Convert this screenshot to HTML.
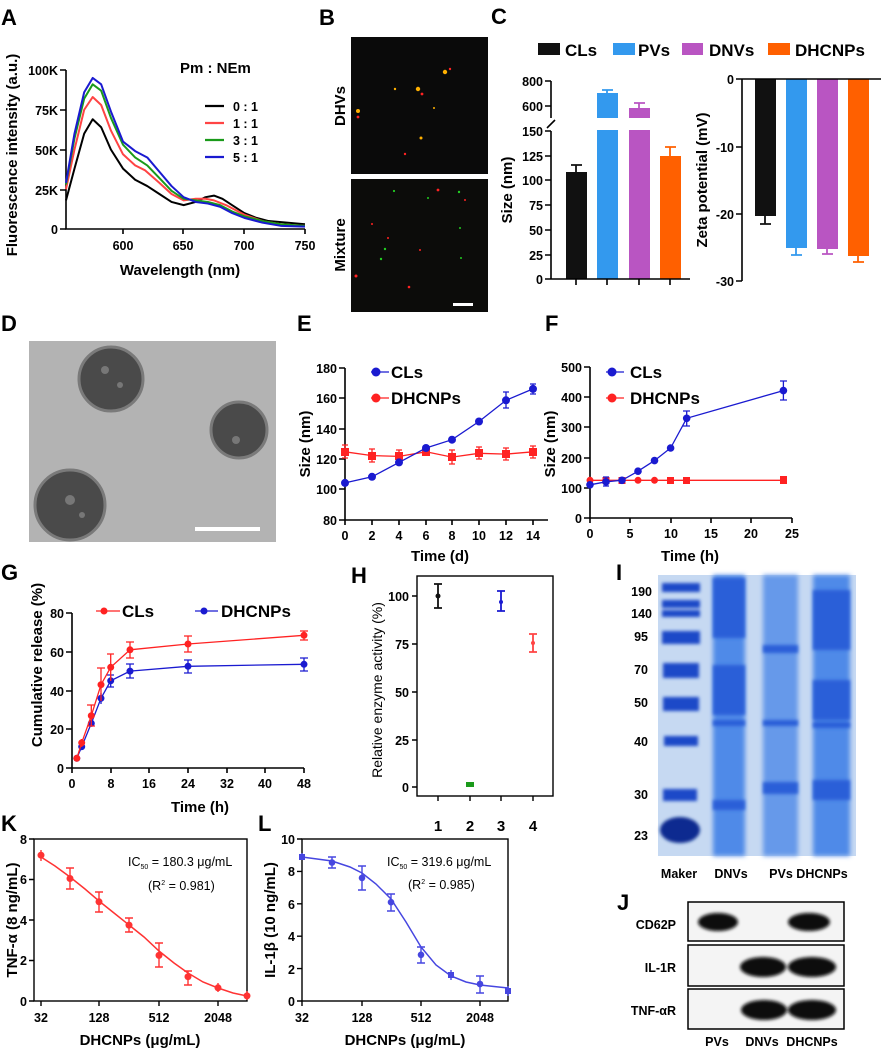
<!DOCTYPE html>
<html><head><meta charset="utf-8"><style>
html,body{margin:0;padding:0;background:#fff}
svg{display:block}
text{font-family:"Liberation Sans",Arial,sans-serif}
.b{font-weight:bold}
.t{font-size:12.5px;font-weight:bold}
.l{font-size:15px;font-weight:bold}
.P{font-size:22px;font-weight:bold}
</style></head><body>
<svg width="881" height="1051" viewBox="0 0 881 1051" xmlns="http://www.w3.org/2000/svg">
<defs>
<filter id="bl" x="-20%" y="-50%" width="140%" height="200%"><feGaussianBlur stdDeviation="1.5"/></filter>
<filter id="bl2" x="-20%" y="-50%" width="140%" height="200%"><feGaussianBlur stdDeviation="2.5"/></filter>
</defs>
<rect width="881" height="1051" fill="#fff"/>

<!-- A -->
<text x="1" y="25" class="P">A</text>
<g stroke="#000" stroke-width="1.6" fill="none">
<path d="M66,70V229H305"/>
<path d="M60,70H66M60,110H66M60,150H66M60,190H66M60,229H66M123,229V234M183,229V234M244,229V234M305,229V234"/>
</g>
<g class="t" text-anchor="end"><text x="58" y="75">100K</text><text x="58" y="115">75K</text><text x="58" y="155">50K</text><text x="58" y="195">25K</text><text x="58" y="234">0</text></g>
<g class="t" text-anchor="middle"><text x="123" y="250">600</text><text x="183" y="250">650</text><text x="244" y="250">700</text><text x="305" y="250">750</text></g>
<text x="180" y="275" class="l" text-anchor="middle">Wavelength (nm)</text>
<text transform="translate(17,155) rotate(-90)" class="l" text-anchor="middle">Fluorescence intensity (a.u.)</text>
<text x="180" y="73" class="l">Pm : NEm</text>
<g stroke-width="2.2"><path d="M205,106H224" stroke="#000"/><path d="M205,123H224" stroke="#f44"/><path d="M205,140H224" stroke="#1a9a1a"/><path d="M205,157H224" stroke="#1a1ad0"/></g>
<g class="t"><text x="233" y="111">0 :  1</text><text x="233" y="128">1 :  1</text><text x="233" y="145">3 :  1</text><text x="233" y="162">5 :  1</text></g>
<g transform="translate(-604.8,229) scale(1.213,-1.59)" fill="none" stroke-width="2" stroke-linejoin="round">
<polyline vector-effect="non-scaling-stroke" stroke="#000" points="553,18 560,38 568,60 575,69 582,64 590,50 600,38 610,31 620,27 630,22 640,17 650,15 660,17 668,20 675,21 682,19 690,15 700,10 710,7 720,5 735,4 750,3"/>
<polyline vector-effect="non-scaling-stroke" stroke="#f44" points="553,25 560,50 568,75 575,83 582,78 590,62 600,47 610,40 618,37 630,29 640,22 650,18 660,19 668,19 675,18 685,15 700,9 715,5 730,3 750,2"/>
<polyline vector-effect="non-scaling-stroke" stroke="#1a9a1a" points="553,28 560,57 568,82 575,91 582,87 590,70 600,53 610,45 620,40 630,32 640,24 650,19 660,18 670,17 680,15 690,11 700,8 715,5 730,3 750,2"/>
<polyline vector-effect="non-scaling-stroke" stroke="#1a1ad0" points="553,29 560,60 568,86 575,95 582,91 590,74 600,55 610,49 620,45 630,36 640,27 650,20 660,17 670,16 680,14 690,10 700,7 715,4 730,2 750,1.5"/>
</g>

<!-- B -->
<text x="319" y="25" class="P">B</text>
<rect x="351" y="37" width="137" height="137" fill="#0a0a0a"/>
<rect x="351" y="179" width="137" height="133" fill="#0c0c0a"/>
<g fill="#ffb000"><circle cx="445" cy="72" r="2.2"/><circle cx="418" cy="89" r="2.2"/><circle cx="358" cy="111" r="2"/><circle cx="421" cy="138" r="1.5"/><circle cx="395" cy="89" r="1.2"/><circle cx="434" cy="108" r="1"/></g>
<g fill="#f22"><circle cx="358" cy="117" r="1.4"/><circle cx="450" cy="69" r="1.2"/><circle cx="405" cy="154" r="1.2"/><circle cx="422" cy="94" r="1.4"/><circle cx="356" cy="276" r="1.5"/><circle cx="409" cy="287" r="1.3"/><circle cx="438" cy="190" r="1.4"/><circle cx="372" cy="224" r="1"/><circle cx="465" cy="200" r="1"/><circle cx="420" cy="250" r="1"/><circle cx="388" cy="238" r="1"/></g>
<g fill="#2c2"><circle cx="394" cy="191" r="1.1"/><circle cx="459" cy="192" r="1.2"/><circle cx="385" cy="249" r="1.2"/><circle cx="381" cy="259" r="1.2"/><circle cx="460" cy="228" r="1"/><circle cx="428" cy="198" r="1"/><circle cx="461" cy="258" r="1"/></g>
<rect x="453" y="303" width="20" height="3" fill="#fff"/>
<text transform="translate(345,106) rotate(-90)" class="l" text-anchor="middle">DHVs</text>
<text transform="translate(345,245) rotate(-90)" class="l" text-anchor="middle">Mixture</text>

<!-- C -->
<text x="491" y="24" class="P">C</text>
<rect x="538" y="43" width="22" height="12" fill="#111"/><text x="565" y="56" style="font-size:17px" class="b">CLs</text>
<rect x="613" y="43" width="22" height="12" fill="#3399ee"/><text x="638" y="56" style="font-size:17px" class="b">PVs</text>
<rect x="682" y="43" width="21" height="12" fill="#b955c2"/><text x="709" y="56" style="font-size:17px" class="b">DNVs</text>
<rect x="768" y="43" width="22" height="12" fill="#ff6000"/><text x="795" y="56" style="font-size:17px" class="b">DHCNPs</text>
<rect x="566" y="172" width="21" height="107" fill="#111"/>
<rect x="597" y="93" width="21" height="25" fill="#3399ee"/><rect x="597" y="130" width="21" height="149" fill="#3399ee"/>
<rect x="629" y="108" width="21" height="10" fill="#b955c2"/><rect x="629" y="130" width="21" height="149" fill="#b955c2"/>
<rect x="660" y="156" width="21" height="123" fill="#ff6000"/>
<g stroke-width="1.8" fill="none">
<path d="M576,172V165M571,165H582" stroke="#111"/>
<path d="M607,93V90M602,90H613" stroke="#3399ee"/>
<path d="M639,108V103M634,103H645" stroke="#b955c2"/>
<path d="M670,156V147M665,147H676" stroke="#ff6000"/>
</g>
<g stroke="#000" stroke-width="1.6" fill="none">
<path d="M551,81V118M551,131V279H690M545,81H551M545,106H551M545,131H551M545,156H551M545,180H551M545,205H551M545,230H551M545,255H551M545,279H551M576,279V285M607,279V285M639,279V285M670,279V285"/>
<path d="M547,128L555,120"/>
</g>
<g class="t" text-anchor="end"><text x="543" y="86">800</text><text x="543" y="111">600</text><text x="543" y="136">150</text><text x="543" y="161">125</text><text x="543" y="185">100</text><text x="543" y="210">75</text><text x="543" y="235">50</text><text x="543" y="260">25</text><text x="543" y="284">0</text></g>
<text transform="translate(512,190) rotate(-90)" class="l" text-anchor="middle">Size (nm)</text>
<rect x="755" y="79" width="21" height="137" fill="#111"/>
<rect x="786" y="79" width="21" height="169" fill="#3399ee"/>
<rect x="817" y="79" width="21" height="170" fill="#b955c2"/>
<rect x="848" y="79" width="21" height="177" fill="#ff6000"/>
<g stroke-width="1.8" fill="none">
<path d="M765,216V224M760,224H771" stroke="#111"/>
<path d="M796,248V255M791,255H802" stroke="#3399ee"/>
<path d="M827,249V254M822,254H833" stroke="#b955c2"/>
<path d="M858,256V262M853,262H864" stroke="#ff6000"/>
</g>
<g stroke="#000" stroke-width="1.6" fill="none"><path d="M742,79V281M742,79H881M736,79H742M736,147H742M736,214H742M736,281H742"/></g>
<g class="t" text-anchor="end"><text x="734" y="84">0</text><text x="734" y="152">-10</text><text x="734" y="219">-20</text><text x="734" y="286">-30</text></g>
<text transform="translate(707,180) rotate(-90)" class="l" text-anchor="middle">Zeta potential (mV)</text>

<!-- D -->
<text x="1" y="331" class="P">D</text>
<rect x="29" y="341" width="247" height="201" fill="#b3b3b3"/>
<g fill="#4a4a4a" stroke="#7a7a7a" stroke-width="3"><circle cx="111" cy="379" r="32"/><circle cx="239" cy="430" r="28"/><circle cx="70" cy="505" r="35"/></g>
<g fill="#777"><circle cx="105" cy="370" r="4"/><circle cx="120" cy="385" r="3"/><circle cx="236" cy="440" r="4"/><circle cx="70" cy="500" r="5"/><circle cx="82" cy="515" r="3"/></g>
<rect x="195" y="527" width="65" height="4" fill="#fff"/>

<!-- E -->
<text x="297" y="331" class="P">E</text>
<g stroke="#000" stroke-width="1.6" fill="none"><path d="M345,368V520H548M339,368H345M339,398H345M339,429H345M339,459H345M339,489H345M339,520H345M345,520V525M372,520V525M399,520V525M426,520V525M452,520V525M479,520V525M506,520V525M533,520V525"/></g>
<g class="t" text-anchor="end"><text x="337" y="373">180</text><text x="337" y="403">160</text><text x="337" y="434">140</text><text x="337" y="464">120</text><text x="337" y="494">100</text><text x="337" y="525">80</text></g>
<g class="t" text-anchor="middle"><text x="345" y="540">0</text><text x="372" y="540">2</text><text x="399" y="540">4</text><text x="426" y="540">6</text><text x="452" y="540">8</text><text x="479" y="540">10</text><text x="506" y="540">12</text><text x="533" y="540">14</text></g>
<text x="440" y="561" class="l" text-anchor="middle">Time (d)</text>
<text transform="translate(310,444) rotate(-90)" class="l" text-anchor="middle">Size (nm)</text>
<polyline fill="none" stroke="#f22" stroke-width="1.3" points="345,451.8 372,455.6 399,456.4 426,451.8 452,457.1 479,453.3 506,454.1 533,451.8"/>
<g stroke="#f22" stroke-width="1.3"><path d="M345,445V458M342,445H348M342,458H348M372,449V462M369,449H375M369,462H375M399,450V463M396,450H402M396,463H402M452,450V464M449,450H455M449,464H455M479,447V459M476,447H482M476,459H482M506,448V460M503,448H509M503,460H509M533,446V458M530,446H536M530,458H536"/></g>
<g fill="#f22"><rect x="341" y="448" width="8" height="8"/><rect x="368" y="452" width="8" height="8"/><rect x="395" y="452" width="8" height="8"/><rect x="422" y="448" width="8" height="8"/><rect x="448" y="453" width="8" height="8"/><rect x="475" y="449" width="8" height="8"/><rect x="502" y="450" width="8" height="8"/><rect x="529" y="448" width="8" height="8"/></g>
<polyline fill="none" stroke="#1a1ad0" stroke-width="1.3" points="345,482.9 372,476.8 399,462.4 426,448 452,439.7 479,421.5 506,400.3 533,388.9"/>
<g stroke="#1a1ad0" stroke-width="1.3"><path d="M506,392V408M503,392H509M503,408H509M533,384V394M530,384H536M530,394H536"/></g>
<g fill="#1a1ad0"><circle cx="345" cy="482.9" r="4"/><circle cx="372" cy="476.8" r="4"/><circle cx="399" cy="462.4" r="4"/><circle cx="426" cy="448" r="4"/><circle cx="452" cy="439.7" r="4"/><circle cx="479" cy="421.5" r="4"/><circle cx="506" cy="400.3" r="4"/><circle cx="533" cy="388.9" r="4"/></g>
<path d="M371,372H389" stroke="#1a1ad0" stroke-width="1.3"/><circle cx="376" cy="372" r="4.5" fill="#1a1ad0"/>
<text x="391" y="378" style="font-size:17px" class="b">CLs</text>
<path d="M371,398H389" stroke="#f22" stroke-width="1.3"/><circle cx="376" cy="398" r="4.5" fill="#f22"/>
<text x="391" y="404" style="font-size:17px" class="b">DHCNPs</text>

<!-- F -->
<text x="545" y="331" class="P">F</text>
<g stroke="#000" stroke-width="1.6" fill="none"><path d="M590,367V518H792M584,367H590M584,397H590M584,427H590M584,458H590M584,488H590M584,518H590M590,518V523M630,518V523M671,518V523M711,518V523M751,518V523M792,518V523"/></g>
<g class="t" text-anchor="end"><text x="582" y="372">500</text><text x="582" y="402">400</text><text x="582" y="432">300</text><text x="582" y="463">200</text><text x="582" y="493">100</text><text x="582" y="523">0</text></g>
<g class="t" text-anchor="middle"><text x="590" y="538">0</text><text x="630" y="538">5</text><text x="671" y="538">10</text><text x="711" y="538">15</text><text x="751" y="538">20</text><text x="792" y="538">25</text></g>
<text x="690" y="561" class="l" text-anchor="middle">Time (h)</text>
<text transform="translate(555,444) rotate(-90)" class="l" text-anchor="middle">Size (nm)</text>
<polyline fill="none" stroke="#f22" stroke-width="1.3" points="590,480.3 783.4,480.3"/>
<g fill="#f22"><circle cx="590" cy="480.3" r="3.5"/><rect x="602.5" y="477" width="7" height="7"/><rect x="618.5" y="477" width="7" height="7"/><circle cx="638" cy="480.3" r="3.5"/><circle cx="654.5" cy="480.3" r="3.5"/><rect x="667" y="477" width="7" height="7"/><rect x="683" y="477" width="7" height="7"/><rect x="780" y="476" width="7" height="8"/></g>
<polyline fill="none" stroke="#1a1ad0" stroke-width="1.3" points="590,484.8 606,481.8 622,480.3 638,471.2 654.5,460.6 670.6,448 686.7,418.3 783.4,390.6"/>
<g stroke="#1a1ad0" stroke-width="1.3"><path d="M686.7,411V426M683,411H690M683,426H690M783.4,381V400M780,381H787M780,400H787M606,477V486M603,477H609M603,486H609"/></g>
<g fill="#1a1ad0"><circle cx="590" cy="484.8" r="3.8"/><circle cx="606" cy="481.8" r="3.8"/><circle cx="622" cy="480.3" r="3.8"/><circle cx="638" cy="471.2" r="3.8"/><circle cx="654.5" cy="460.6" r="3.8"/><circle cx="670.6" cy="448" r="3.8"/><circle cx="686.7" cy="418.3" r="3.8"/><circle cx="783.4" cy="390.6" r="3.8"/></g>
<path d="M606,372H624" stroke="#1a1ad0" stroke-width="1.3"/><circle cx="612" cy="372" r="4.5" fill="#1a1ad0"/>
<text x="630" y="378" style="font-size:17px" class="b">CLs</text>
<path d="M606,398H624" stroke="#f22" stroke-width="1.3"/><circle cx="612" cy="398" r="4.5" fill="#f22"/>
<text x="630" y="404" style="font-size:17px" class="b">DHCNPs</text>

<!-- G -->
<text x="1" y="580" class="P">G</text>
<g stroke="#000" stroke-width="1.6" fill="none"><path d="M72,613V768H304M66,613H72M66,652H72M66,691H72M66,729H72M66,768H72M72,768V773M111,768V773M149,768V773M188,768V773M227,768V773M265,768V773M304,768V773"/></g>
<g class="t" text-anchor="end"><text x="64" y="618">80</text><text x="64" y="657">60</text><text x="64" y="696">40</text><text x="64" y="734">20</text><text x="64" y="773">0</text></g>
<g class="t" text-anchor="middle"><text x="72" y="788">0</text><text x="111" y="788">8</text><text x="149" y="788">16</text><text x="188" y="788">24</text><text x="227" y="788">32</text><text x="265" y="788">40</text><text x="304" y="788">48</text></g>
<text x="200" y="812" class="l" text-anchor="middle">Time (h)</text>
<text transform="translate(42,665) rotate(-90)" class="l" text-anchor="middle">Cumulative release (%)</text>
<polyline fill="none" stroke="#1a1ad0" stroke-width="1.3" points="76.8,758.3 81.7,746.7 91.3,723.4 101,698.3 110.7,680.8 130,671.1 188,666.3 304,664.3"/>
<g stroke="#1a1ad0" stroke-width="1.3"><path d="M101,693V704M110.7,675V687M107,675H114M107,687H114M130,664V678M126,664H134M126,678H134M188,660V673M184,660H192M184,673H192M304,658V671M300,658H308M300,671H308"/></g>
<g fill="#1a1ad0"><circle cx="76.8" cy="758.3" r="3.5"/><circle cx="81.7" cy="746.7" r="3.5"/><circle cx="91.3" cy="723.4" r="3.5"/><circle cx="101" cy="698.3" r="3.5"/><circle cx="110.7" cy="680.8" r="3.5"/><circle cx="130" cy="671.1" r="3.5"/><circle cx="188" cy="666.3" r="3.5"/><circle cx="304" cy="664.3" r="3.5"/></g>
<polyline fill="none" stroke="#f22" stroke-width="1.3" points="76.8,758.3 81.7,742.8 91.3,715.7 101,684.7 110.7,667.3 130,649.8 188,644 304,635.3"/>
<g stroke="#f22" stroke-width="1.3"><path d="M81.7,739V747M91.3,705V726M87,705H95M87,726H95M101,668V701M97,668H105M110.7,654V681M107,654H114M130,642V658M126,642H134M126,658H134M188,636V652M184,636H192M184,652H192M304,631V640M300,631H308M300,640H308"/></g>
<g fill="#f22"><circle cx="76.8" cy="758.3" r="3.5"/><circle cx="81.7" cy="742.8" r="3.5"/><circle cx="91.3" cy="715.7" r="3.5"/><circle cx="101" cy="684.7" r="3.5"/><circle cx="110.7" cy="667.3" r="3.5"/><circle cx="130" cy="649.8" r="3.5"/><circle cx="188" cy="644" r="3.5"/><circle cx="304" cy="635.3" r="3.5"/></g>
<path d="M96,611H120" stroke="#f22" stroke-width="1.3"/><circle cx="104" cy="611" r="3.5" fill="#f22"/>
<text x="122" y="617" style="font-size:17px" class="b">CLs</text>
<path d="M195,611H218" stroke="#1a1ad0" stroke-width="1.3"/><circle cx="204" cy="611" r="3.5" fill="#1a1ad0"/>
<text x="221" y="617" style="font-size:17px" class="b">DHCNPs</text>

<!-- H -->
<text x="351" y="583" class="P">H</text>
<rect x="417" y="576" width="136" height="220" fill="none" stroke="#000" stroke-width="1.4"/>
<g stroke="#000" stroke-width="1.4"><path d="M412,596H417M412,644H417M412,692H417M412,740H417M412,787H417M438,796V801M470,796V801M501,796V801M533,796V801"/></g>
<g class="t" text-anchor="end"><text x="409" y="601">100</text><text x="409" y="649">75</text><text x="409" y="697">50</text><text x="409" y="745">25</text><text x="409" y="792">0</text></g>
<g class="l" text-anchor="middle"><text x="438" y="831">1</text><text x="470" y="831">2</text><text x="501" y="831">3</text><text x="533" y="831">4</text></g>
<text transform="translate(382,690) rotate(-90)" text-anchor="middle" style="font-size:14px">Relative enzyme activity (%)</text>
<g stroke-width="1.8" fill="none"><path d="M438,584V608M434,584H442M434,608H442" stroke="#111"/><path d="M501,591V611M497,591H505M497,611H505" stroke="#1a1ad0"/><path d="M533,634V652M529,634H537M529,652H537" stroke="#f44"/></g>
<circle cx="438" cy="596" r="2.5" fill="#111"/><rect x="466" y="782" width="8" height="5" fill="#1a9a1a"/><circle cx="501" cy="602" r="2" fill="#1a1ad0"/><circle cx="533" cy="643" r="2" fill="#f44"/>

<!-- I -->
<text x="616" y="580" class="P">I</text>
<rect x="658" y="575" width="198" height="281" fill="#c6d9f2"/>
<g filter="url(#bl2)">
<rect x="713" y="575" width="32" height="281" fill="#4f8ae8"/>
<rect x="763" y="575" width="35" height="281" fill="#6699ea"/>
<rect x="813" y="575" width="37" height="281" fill="#4f8ae8"/>
</g>
<g filter="url(#bl)" fill="#2a5fd8">
<rect x="713" y="578" width="32" height="60"/><rect x="713" y="665" width="32" height="50"/><rect x="713" y="720" width="32" height="6"/><rect x="713" y="800" width="32" height="10"/>
<rect x="763" y="645" width="35" height="8"/><rect x="763" y="720" width="35" height="6"/><rect x="763" y="782" width="35" height="12"/>
<rect x="813" y="590" width="37" height="60"/><rect x="813" y="680" width="37" height="40"/><rect x="813" y="722" width="37" height="6"/><rect x="813" y="780" width="37" height="20"/>
</g>
<g filter="url(#bl)" fill="#1a4ac8">
<rect x="662" y="583" width="38" height="9"/><rect x="662" y="600" width="38" height="8"/><rect x="662" y="610" width="38" height="7"/><rect x="662" y="631" width="38" height="13"/><rect x="663" y="663" width="36" height="15"/><rect x="663" y="697" width="36" height="14"/><rect x="664" y="736" width="34" height="10"/><rect x="663" y="789" width="34" height="12"/>
</g>
<ellipse cx="680" cy="830" rx="20" ry="13" fill="#0a2a90" filter="url(#bl)"/>
<g class="t" text-anchor="end"><text x="652" y="596">190</text><text x="652" y="618">140</text><text x="648" y="641">95</text><text x="648" y="674">70</text><text x="648" y="707">50</text><text x="648" y="746">40</text><text x="648" y="799">30</text><text x="648" y="840">23</text></g>
<g class="t" text-anchor="middle"><text x="679" y="878">Maker</text><text x="731" y="878">DNVs</text><text x="781" y="878">PVs</text><text x="822" y="878">DHCNPs</text></g>

<!-- J -->
<text x="617" y="910" class="P">J</text>
<g fill="#f4f4f4" stroke="#000" stroke-width="1.5"><rect x="688" y="902" width="156" height="39"/><rect x="688" y="945" width="156" height="41"/><rect x="688" y="989" width="156" height="40"/></g>
<g fill="#080808" filter="url(#bl)"><ellipse cx="718" cy="922" rx="20" ry="9"/><ellipse cx="809" cy="922" rx="21" ry="9"/><ellipse cx="763" cy="967" rx="23" ry="10"/><ellipse cx="812" cy="967" rx="24" ry="10"/><ellipse cx="764" cy="1010" rx="23" ry="10"/><ellipse cx="812" cy="1010" rx="24" ry="10"/></g>
<g class="t" text-anchor="end"><text x="676" y="929">CD62P</text><text x="676" y="972">IL-1R</text><text x="676" y="1015">TNF-αR</text></g>
<g class="t" text-anchor="middle"><text x="717" y="1046">PVs</text><text x="762" y="1046">DNVs</text><text x="812" y="1046">DHCNPs</text></g>

<!-- K -->
<text x="1" y="831" class="P">K</text>
<rect x="34" y="839" width="213" height="162" fill="none" stroke="#000" stroke-width="1.4"/>
<g stroke="#000" stroke-width="1.4"><path d="M29,839H34M29,879.5H34M29,920H34M29,960.5H34M29,1001H34M41,1001V1006M99,1001V1006M159,1001V1006M218,1001V1006"/></g>
<g class="t" text-anchor="end"><text x="27" y="844">8</text><text x="27" y="884">6</text><text x="27" y="925">4</text><text x="27" y="965">2</text><text x="27" y="1006">0</text></g>
<g class="t" text-anchor="middle"><text x="41" y="1022">32</text><text x="99" y="1022">128</text><text x="159" y="1022">512</text><text x="218" y="1022">2048</text></g>
<text x="140" y="1045" class="l" text-anchor="middle">DHCNPs (μg/mL)</text>
<text transform="translate(17,920) rotate(-90)" class="l" text-anchor="middle">TNF-α (8 ng/mL)</text>
<text x="128" y="866" style="font-size:12.5px">IC<tspan font-size="7" dy="3">50</tspan><tspan dy="-3"> = 180.3 μg/mL</tspan></text>
<text x="148" y="890" style="font-size:12.5px">(R<tspan font-size="7" dy="-5">2</tspan><tspan dy="5"> = 0.981)</tspan></text>
<polyline fill="none" stroke="#f33" stroke-width="1.5" points="41,857 55,866 70,877 85,889 99,901 114,913 129,925 144,937 159,951 174,963 188,973 203,982 218,988 233,993 247,996"/>
<g stroke="#f33" stroke-width="1.4"><path d="M41,850V861M70,868V889M66,868H74M66,889H74M99,892V912M95,892H103M95,912H103M129,918V932M125,918H133M125,932H133M159,943V967M155,943H163M155,967H163M188,971V985M184,971H192M184,985H192M218,983V992M247,991V1000"/></g>
<g fill="#f33"><circle cx="41" cy="855.2" r="3.5"/><circle cx="70" cy="878.5" r="3.5"/><circle cx="99" cy="901.8" r="3.5"/><circle cx="129" cy="925.1" r="3.5"/><circle cx="159" cy="955.4" r="3.5"/><circle cx="188" cy="976.7" r="3.5"/><circle cx="218" cy="987.8" r="3.5"/><circle cx="247" cy="995.9" r="3.5"/></g>

<!-- L -->
<text x="258" y="831" class="P">L</text>
<rect x="302" y="839" width="206" height="162" fill="none" stroke="#000" stroke-width="1.4"/>
<g stroke="#000" stroke-width="1.4"><path d="M297,839H302M297,871.4H302M297,903.8H302M297,936.2H302M297,968.6H302M297,1001H302M302,1001V1006M362,1001V1006M421,1001V1006M480,1001V1006"/></g>
<g class="t" text-anchor="end"><text x="295" y="844">10</text><text x="295" y="876">8</text><text x="295" y="909">6</text><text x="295" y="941">4</text><text x="295" y="974">2</text><text x="295" y="1006">0</text></g>
<g class="t" text-anchor="middle"><text x="302" y="1022">32</text><text x="362" y="1022">128</text><text x="421" y="1022">512</text><text x="480" y="1022">2048</text></g>
<text x="405" y="1045" class="l" text-anchor="middle">DHCNPs (μg/mL)</text>
<text transform="translate(275,920) rotate(-90)" class="l" text-anchor="middle">IL-1β (10 ng/mL)</text>
<text x="387" y="866" style="font-size:12.5px">IC<tspan font-size="7" dy="3">50</tspan><tspan dy="-3"> = 319.6 μg/mL</tspan></text>
<text x="408" y="889" style="font-size:12.5px">(R<tspan font-size="7" dy="-5">2</tspan><tspan dy="5"> = 0.985)</tspan></text>
<polyline fill="none" stroke="#4646e0" stroke-width="1.5" points="302,857 332,861 350,867 362,873 376,884 391,899 406,922 421,947 436,965 451,976 466,982 480,985 508,988"/>
<g stroke="#4646e0" stroke-width="1.4"><path d="M302,853V860M332,857V868M328,857H336M328,868H336M362,866V890M358,866H366M358,890H366M391,894V911M387,894H395M387,911H395M421,947V963M417,947H425M417,963H425M451,970V980M480,976V993M476,976H484M476,993H484M508,986V996"/></g>
<g fill="#4646e0"><rect x="299" y="854" width="6" height="6"/><circle cx="332" cy="862.5" r="3.3"/><circle cx="362" cy="877.9" r="3.3"/><circle cx="391" cy="902.2" r="3.3"/><circle cx="421" cy="954.8" r="3.3"/><rect x="448" y="972" width="6" height="6"/><circle cx="480" cy="984" r="3.3"/><rect x="505" y="988" width="6" height="6"/></g>
</svg>
</body></html>
